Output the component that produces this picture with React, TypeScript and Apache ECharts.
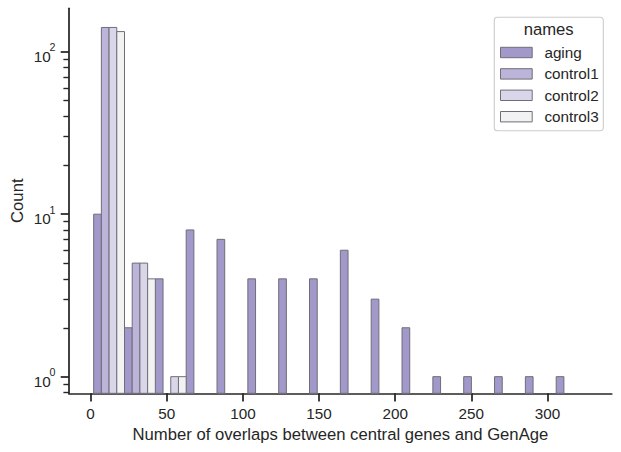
import React, { useEffect, useRef } from "react";
import * as echarts from "echarts";

const seriesNames = ["aging", "control1", "control2", "control3"];
const seriesColors = ["#a298c9", "#bcb4d9", "#dad6ea", "#f2f2f3"];
const edgeColor = "#6f6e78";
const binStart = 2;
const binWidth = 20.25;
const agingCounts = [10, 2, 4, 8, 7, 4, 4, 4, 6, 3, 2, 1, 1, 1, 1, 1];
const control1Counts = [141, 5, 0];
const control2Counts = [141, 5, 1];
const control3Counts = [133, 4, 1];
const xTicks = [0, 50, 100, 150, 200, 250, 300];
const yMajorTicks = [1, 10, 100];
const yMinorTicks = [0.8, 0.9, 2, 3, 4, 5, 6, 7, 8, 9, 20, 30, 40, 50, 60, 70, 80, 90];
const xMin = -14.2;
const xMax = 342.2;
const yMin = 0.79;
const yMax = 185;
const xTitle = "Number of overlaps between central genes and GenAge";
const yTitle = "Count";
const legendTitle = "names";

const FONT = "Liberation Sans, Arial, sans-serif";
const INK = "#262626";

export default function App() {
  const ref = useRef<HTMLDivElement>(null);
  useEffect(() => {
    if (!ref.current) return;
    const chart = echarts.init(ref.current, null, { renderer: "svg" });
    const allCounts = [agingCounts, control1Counts, control2Counts, control3Counts];
    const nHue = seriesNames.length;
    const series = allCounts.map((counts, k) => {
      const data: number[][] = [];
      counts.forEach((c, i) => {
        if (c > 0) {
          const x0 = binStart + i * binWidth + (k * binWidth) / nHue;
          data.push([x0, x0 + binWidth / nHue, c]);
        }
      });
      return {
        type: "custom",
        name: seriesNames[k],
        xAxisIndex: 0,
        yAxisIndex: 0,
        itemStyle: { color: seriesColors[k], borderColor: edgeColor, borderWidth: 1 },
        encode: { x: [0, 1], y: 2 },
        data,
        renderItem: (params: any, api: any) => {
          const p0 = api.coord([api.value(0), api.value(2)]);
          const p1 = api.coord([api.value(1), yMin]);
          return {
            type: "rect",
            shape: { x: p0[0], y: p0[1], width: p1[0] - p0[0], height: p1[1] - p0[1] },
            style: { fill: seriesColors[k], stroke: edgeColor, lineWidth: 1 },
          };
        },
      };
    });

    const yBase = {
      type: "log",
      logBase: 10,
      min: yMin,
      max: yMax,
      position: "left",
      splitLine: { show: false },
    };

    chart.setOption({
      animation: false,
      backgroundColor: "#ffffff",
      grid: { left: 69, right: 9.3, top: 8.3, bottom: 58.7 },
      xAxis: {
        type: "value",
        min: xMin,
        max: xMax,
        splitLine: { show: false },
        axisLine: { show: true, onZero: false, lineStyle: { color: INK, width: 1.74 } },
        axisTick: {
          show: true,
          length: 8.3,
          customValues: xTicks,
          lineStyle: { color: INK, width: 1.74 },
        },
        axisLabel: {
          customValues: xTicks,
          fontSize: 15.28,
          fontFamily: FONT,
          color: INK,
          margin: 13,
        },
      },
      yAxis: [
        {
          ...yBase,
          axisLine: { show: true, onZero: false, lineStyle: { color: INK, width: 1.74 } },
          axisTick: {
            show: true,
            length: 8.3,
            customValues: yMajorTicks,
            lineStyle: { color: INK, width: 1.74 },
          },
          axisLabel: {
            customValues: yMajorTicks,
            formatter: () => "10",
            fontSize: 15.28,
            fontFamily: FONT,
            color: INK,
            margin: 18.3,
            verticalAlign: "top",
            lineHeight: 9,
          },
        },
        {
          ...yBase,
          axisLine: { show: false, onZero: false },
          axisTick: {
            show: true,
            length: 5.6,
            customValues: yMinorTicks,
            lineStyle: { color: INK, width: 1.39 },
          },
          axisLabel: { show: false },
        },
        {
          ...yBase,
          axisLine: { show: false, onZero: false },
          axisTick: { show: false },
          axisLabel: {
            customValues: yMajorTicks,
            formatter: (v: number) => String(Math.round(Math.log10(v))),
            fontSize: 10.7,
            fontFamily: FONT,
            color: INK,
            margin: 13.5,
            verticalAlign: "bottom",
            lineHeight: 9,
          },
        },
      ],
      legend: {
        orient: "vertical",
        left: 500,
        top: 44.5,
        padding: 0,
        itemGap: 5.4,
        itemWidth: 31.7,
        itemHeight: 10.4,
        icon: "rect",
        z: 10,
        data: seriesNames.map((n, k) => ({
          name: n,
          itemStyle: { color: seriesColors[k], borderColor: edgeColor, borderWidth: 1 },
        })),
        textStyle: {
          fontSize: 15.28,
          fontFamily: FONT,
          color: INK,
          lineHeight: 16,
          padding: [0, 0, 0, 7.2],
        },
      },
      graphic: [
        {
          type: "rect",
          z: 1,
          shape: { x: 494.3, y: 17.3, width: 109, height: 113.4, r: 3 },
          style: { fill: "rgba(255,255,255,0.8)", stroke: "#cccccc", lineWidth: 1.1 },
        },
        {
          type: "text",
          z: 2,
          x: 548.7,
          y: 29.5,
          style: {
            text: legendTitle,
            fontSize: 16.67,
            fontFamily: FONT,
            fill: INK,
            align: "center",
            verticalAlign: "middle",
          },
        },
        {
          type: "text",
          x: 340.4,
          y: 434,
          style: {
            text: xTitle,
            fontSize: 16.67,
            fontFamily: FONT,
            fill: INK,
            align: "center",
            verticalAlign: "middle",
          },
        },
        {
          type: "text",
          x: 17,
          y: 200.7,
          rotation: Math.PI / 2,
          style: {
            text: yTitle,
            fontSize: 16.67,
            fontFamily: FONT,
            fill: INK,
            align: "center",
            verticalAlign: "middle",
          },
        },
      ],
      series,
    });
    return () => chart.dispose();
  }, []);
  return (
    <div
      ref={ref}
      style={{ position: "fixed", left: 0, top: 0, width: 621, height: 452, background: "#fff" }}
    />
  );
}
